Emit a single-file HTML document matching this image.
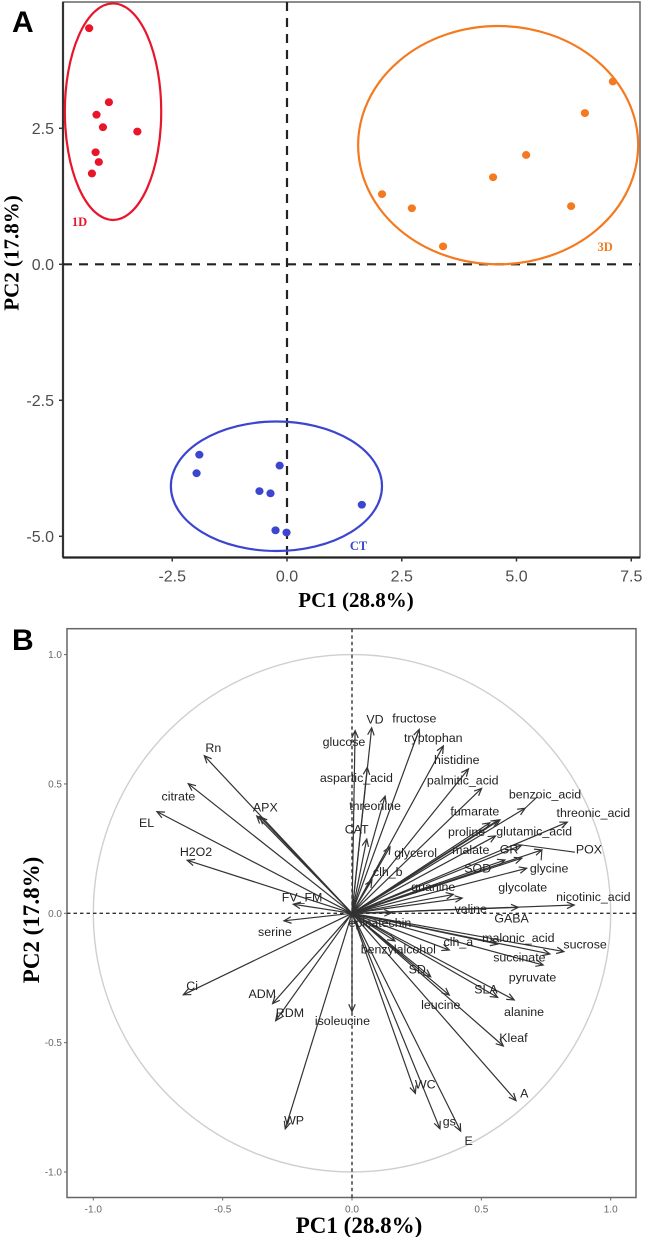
<!DOCTYPE html>
<html lang="en">
<head>
<meta charset="utf-8">
<title>PCA score plot and loading plot</title>
<style>
html,body{margin:0;padding:0;background:#fff;}
svg{display:block;filter:blur(0.35px);}
</style>
</head>
<body>
<svg id="fig" xmlns="http://www.w3.org/2000/svg" width="645" height="1237" viewBox="0 0 645 1237">
  <rect x="0" y="0" width="645" height="1237" fill="#ffffff"/>
  <text x="12" y="32" font-family="'Liberation Sans',sans-serif" font-weight="bold" font-size="30" fill="#000">A</text>
  <text x="12" y="650" font-family="'Liberation Sans',sans-serif" font-weight="bold" font-size="30" fill="#000">B</text>
  <g id="panelA"></g>
  <g id="panelB"></g>
  <text x="356" y="607" text-anchor="middle" font-family="'Liberation Serif',serif" font-weight="bold" font-size="21" fill="#000">PC1 (28.8%)</text>
  <text transform="translate(18.5,253) rotate(-90)" text-anchor="middle" font-family="'Liberation Serif',serif" font-weight="bold" font-size="21" fill="#000">PC2 (17.8%)</text>
  <text x="359" y="1233" text-anchor="middle" font-family="'Liberation Serif',serif" font-weight="bold" font-size="23" fill="#000">PC1 (28.8%)</text>
  <text transform="translate(39,920) rotate(-90)" text-anchor="middle" font-family="'Liberation Serif',serif" font-weight="bold" font-size="23" fill="#000">PC2 (17.8%)</text>
</svg>
<script>
// Score plot data
var scoreXTicks = [-2.5, 0, 2.5, 5, 7.5];
var scoreYTicks = [2.5, 0, -2.5, -5];
var groupNames = ['1D', '3D', 'CT'];
var groupColors = ['#e8152b', '#f5791f', '#3b45cf'];
var pc1Group1D = [-4.31, -3.88, -4.15, -4.01, -3.26, -4.17, -4.10, -4.25];
var pc2Group1D = [4.34, 2.98, 2.75, 2.52, 2.44, 2.06, 1.88, 1.67];
var pc1Group3D = [7.10, 6.49, 5.21, 4.49, 2.07, 2.72, 6.19, 3.40];
var pc2Group3D = [3.36, 2.78, 2.01, 1.60, 1.29, 1.03, 1.07, 0.33];
var pc1GroupCT = [-1.91, -0.16, -1.97, -0.60, -0.36, 1.63, -0.25, -0.01];
var pc2GroupCT = [-3.50, -3.70, -3.84, -4.17, -4.21, -4.42, -4.89, -4.93];
var ellipseCenterPC1 = [-3.79, 4.60, -0.23];
var ellipseCenterPC2 = [2.805, 2.19, -4.08];
var ellipseRadiusPC1 = [1.05, 3.05, 2.30];
var ellipseRadiusPC2 = [1.99, 2.19, 1.19];
var groupLabelPC1 = [-4.52, 6.93, 1.56];
var groupLabelPC2 = [0.78, 0.32, -5.18];

// Loading plot data
var loadingTicks = [-1, -0.5, 0, 0.5, 1];
var loadingNames = ['Rn','citrate','EL','H2O2','APX','','FV_FM','serine','Ci','ADM','RDM','WP','isoleucine','A','E','gs','WC','Kleaf','alanine','SLA','pyruvate','succinate','sucrose','malonic_acid','clh_a','SD','leucine','benzylalcohol','epicatechin','GABA','nicotinic_acid','valine','guanine','glycolate','glycine','GR','SOD','malate','POX','threonic_acid','benzoic_acid','glutamic_acid','fumarate','proline','glycerol','clh_b','CAT','threonine','palmitic_acid','histidine','tryptophan','fructose','VD','aspartic_acid','glucose'];
var loadingPC1 = [-0.571,-0.633,-0.754,-0.637,-0.368,-0.356,-0.227,-0.263,-0.652,-0.307,-0.295,-0.258,0,0.634,0.420,0.340,0.245,0.585,0.627,0.563,0.739,0.765,0.819,0.563,0.376,0.304,0.376,0.166,0.153,0.643,0.859,0.426,0.392,0.675,0.734,0.656,0.591,0.566,0.656,0.832,0.669,0.555,0.572,0.533,0.147,0.077,0.057,0.128,0.501,0.450,0.353,0.260,0.076,0.059,0.012];
var loadingPC2 = [0.609,0.501,0.393,0.205,0.376,0.373,0.035,-0.029,-0.315,-0.349,-0.415,-0.833,-0.380,-0.724,-0.842,-0.833,-0.696,-0.513,-0.335,-0.325,-0.200,-0.157,-0.148,-0.119,-0.142,-0.245,-0.316,-0.107,0.002,0.023,0.032,0.059,0.073,0.174,0.245,0.213,0.206,0.361,0.264,0.352,0.406,0.299,0.361,0.350,0.257,0.129,0.287,0.453,0.483,0.558,0.647,0.711,0.717,0.564,0.706];
var labelPC1 = [-0.536,-0.671,-0.794,-0.603,-0.335,0,-0.193,-0.298,-0.618,-0.347,-0.240,-0.224,-0.037,0.666,0.451,0.376,0.283,0.624,0.665,0.518,0.698,0.647,0.901,0.643,0.411,0.252,0.343,0.179,0.108,0.617,0.933,0.459,0.314,0.660,0.762,0.607,0.486,0.459,0.916,0.933,0.746,0.704,0.475,0.443,0.246,0.138,0.018,0.089,0.428,0.405,0.314,0.241,0.089,0.017,-0.031];
var labelPC2 = [0.640,0.453,0.350,0.238,0.411,0,0.063,-0.072,-0.280,-0.311,-0.384,-0.800,-0.416,-0.695,-0.879,-0.803,-0.661,-0.481,-0.380,-0.294,-0.247,-0.170,-0.119,-0.094,-0.110,-0.216,-0.354,-0.139,-0.037,-0.019,0.064,0.017,0.103,0.100,0.174,0.247,0.174,0.245,0.248,0.389,0.461,0.318,0.395,0.315,0.234,0.161,0.326,0.416,0.515,0.593,0.679,0.754,0.751,0.524,0.663];
// Extra connector segments visible in the figure: loading tip to its label
var connectorNames = ['POX','benzoic_acid','glycine'];

var NS = 'http://www.w3.org/2000/svg';
function mk(tag, parent, attrs) {
  var el = document.createElementNS(NS, tag);
  for (var k in attrs) { el.setAttribute(k, attrs[k]); }
  parent.appendChild(el);
  return el;
}
function fmt(v) { return v.toFixed(1); }

// ---------- Panel A ----------
var A = document.getElementById('panelA');
var ax = function (v) { return 287 + v * 45.9; };
var ay = function (v) { return 264.3 - v * 54.4; };
var aL = 63, aR = 640, aT = 2, aB = 557.5;

var frameA = mk('rect', A, {x: aL, y: aT, width: aR - aL, height: aB - aT, fill: 'none', stroke: '#666', 'stroke-width': 1.5});


var spineLeft = mk('line', A, {x1: aL, y1: aT, x2: aL, y2: aB, stroke: '#333', 'stroke-width': 2.2});


var spineBottom = mk('line', A, {x1: aL, y1: aB, x2: aR, y2: aB, stroke: '#222', 'stroke-width': 2.2});



var zeroV = mk('line', A, {x1: ax(0), y1: aT, x2: ax(0), y2: aB, stroke: '#222', 'stroke-width': 2.2, 'stroke-dasharray': '9 7'});


var zeroH = mk('line', A, {x1: aL, y1: ay(0), x2: aR, y2: ay(0), stroke: '#222', 'stroke-width': 2.2, 'stroke-dasharray': '9 7'});



scoreXTicks.forEach(function (t) {
  var tick = mk('line', A, {x1: ax(t), y1: aB, x2: ax(t), y2: aB + 4, stroke: '#333', 'stroke-width': 1.5});
  
  
  var lab = mk('text', A, {x: ax(t), y: 581.5, 'text-anchor': 'middle', 'font-family': "'Liberation Sans',sans-serif", 'font-size': 16, fill: '#4d4d4d'});
  lab.textContent = fmt(t);
  
  
});
scoreYTicks.forEach(function (t) {
  var tick = mk('line', A, {x1: aL - 4, y1: ay(t), x2: aL, y2: ay(t), stroke: '#333', 'stroke-width': 1.5});
  
  
  var lab = mk('text', A, {x: 54, y: ay(t) + 5.8, 'text-anchor': 'end', 'font-family': "'Liberation Sans',sans-serif", 'font-size': 16, fill: '#4d4d4d'});
  lab.textContent = fmt(t);
  
  
});

var groupPC1 = [pc1Group1D, pc1Group3D, pc1GroupCT];
var groupPC2 = [pc2Group1D, pc2Group3D, pc2GroupCT];
groupNames.forEach(function (name, g) {
  var ell = mk('ellipse', A, {
    cx: ax(ellipseCenterPC1[g]), cy: ay(ellipseCenterPC2[g]),
    rx: ellipseRadiusPC1[g] * 45.9, ry: ellipseRadiusPC2[g] * 54.4,
    fill: 'none', stroke: groupColors[g], 'stroke-width': 2.2
  });
  
  
  groupPC1[g].forEach(function (v, i) {
    var p = mk('ellipse', A, {cx: ax(v), cy: ay(groupPC2[g][i]), rx: 4.1, ry: 3.9, fill: groupColors[g]});
    
    
  });
  var tx = mk('text', A, {x: ax(groupLabelPC1[g]), y: ay(groupLabelPC2[g]) , 'text-anchor': 'middle', 'dominant-baseline': 'central', 'font-family': "'Liberation Serif',serif", 'font-weight': 'bold', 'font-size': 12.5, fill: groupColors[g]});
  tx.textContent = name;
  
  
});

// ---------- Panel B ----------
var B = document.getElementById('panelB');
var bx = function (v) { return 352 + v * 258.7; };
var by = function (v) { return 913.3 - v * 258.7; };
var bL = 67, bR = 636, bT = 628.7, bB = 1197.5;

var frameB = mk('rect', B, {x: bL, y: bT, width: bR - bL, height: bB - bT, fill: 'none', stroke: '#666', 'stroke-width': 1.5});



var unitCircle = mk('circle', B, {cx: bx(0), cy: by(0), r: 258.7, fill: 'none', stroke: '#cfcfcf', 'stroke-width': 1.4});



var zeroV2 = mk('line', B, {x1: bx(0), y1: bT, x2: bx(0), y2: bB, stroke: '#333', 'stroke-width': 1.4, 'stroke-dasharray': '3.5 3'});


var zeroH2 = mk('line', B, {x1: bL, y1: by(0), x2: bR, y2: by(0), stroke: '#333', 'stroke-width': 1.4, 'stroke-dasharray': '3.5 3'});



loadingTicks.forEach(function (t) {
  var tick = mk('line', B, {x1: bx(t), y1: bB, x2: bx(t), y2: bB + 3, stroke: '#666', 'stroke-width': 1});
  
  
  var lab = mk('text', B, {x: bx(t), y: 1212.5, 'text-anchor': 'middle', 'font-family': "'Liberation Sans',sans-serif", 'font-size': 10, fill: '#666'});
  lab.textContent = fmt(t);
  
  
  var tickY = mk('line', B, {x1: bL - 3, y1: by(t), x2: bL, y2: by(t), stroke: '#666', 'stroke-width': 1});
  
  
  var labY = mk('text', B, {x: 62, y: by(t) + 3.5, 'text-anchor': 'end', 'font-family': "'Liberation Sans',sans-serif", 'font-size': 10, fill: '#666'});
  labY.textContent = fmt(t);
  
  
});

loadingNames.forEach(function (name, i) {
  var x0 = bx(0), y0 = by(0), x1 = bx(loadingPC1[i]), y1 = by(loadingPC2[i]);
  var ang = Math.atan2(y1 - y0, x1 - x0), len = 8, spread = 0.42;
  var g = mk('g', B, {fill: 'none', stroke: '#333', 'stroke-width': 1.2});
  
  
  mk('line', g, {x1: x0, y1: y0, x2: x1, y2: y1});
  mk('polyline', g, {points: (x1 - len * Math.cos(ang - spread)) + ',' + (y1 - len * Math.sin(ang - spread)) + ' ' + x1 + ',' + y1 + ' ' + (x1 - len * Math.cos(ang + spread)) + ',' + (y1 - len * Math.sin(ang + spread))});
});

connectorNames.forEach(function (name) {
  var i = loadingNames.indexOf(name);
  var seg = mk('line', B, {x1: bx(loadingPC1[i]), y1: by(loadingPC2[i]), x2: bx(labelPC1[i]) - (name === 'POX' ? 14 : 8), y2: by(labelPC2[i]) + (name === 'glycine' ? -8 : 3), stroke: '#333', 'stroke-width': 1.1});
  
  
});

loadingNames.forEach(function (name, i) {
  if (!name) { return; }
  var t = mk('text', B, {x: bx(labelPC1[i]), y: by(labelPC2[i]) + 4.3, 'text-anchor': 'middle', 'font-family': "'Liberation Sans',sans-serif", 'font-size': 12.4, fill: '#222'});
  t.textContent = name;
  
  
});
</script>
</body>
</html>
